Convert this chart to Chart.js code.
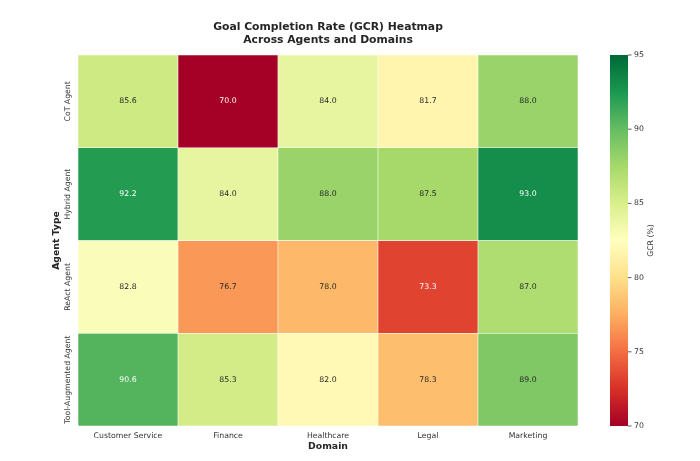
<!DOCTYPE html>
<html>
<head>
<meta charset="utf-8">
<script src="https://cdn.jsdelivr.net/npm/chart.js@4.4.1/dist/chart.umd.min.js"></script>
<style>
  html, body { margin: 0; padding: 0; background: #fff; }
  #wrap { width: 700px; height: 461px; }
</style>
</head>
<body>
<div id="wrap"><canvas id="heatmap"></canvas></div>
<script>
// data
const domains = ['Customer Service', 'Finance', 'Healthcare', 'Legal', 'Marketing'];
const agents = ['CoT Agent', 'Hybrid Agent', 'ReAct Agent', 'Tool-Augmented Agent'];
const cotGcr = [85.6, 70.0, 84.0, 81.7, 88.0];
const hybridGcr = [92.2, 84.0, 88.0, 87.5, 93.0];
const reactGcr = [82.8, 76.7, 78.0, 73.3, 87.0];
const toolGcr = [90.6, 85.3, 82.0, 78.3, 89.0];
const gcrRows = [cotGcr, hybridGcr, reactGcr, toolGcr];
const colorbarTicks = [70, 75, 80, 85, 90, 95];
const vmin = 70, vmax = 95;

// matplotlib RdYlGn anchors
const rdylgn = ['#a50026', '#d73027', '#f46d43', '#fdae61', '#fee08b', '#ffffbf',
                '#d9ef8b', '#a6d96a', '#66bd63', '#1a9850', '#006837'];

function hexToRgb(h) {
  return [parseInt(h.slice(1, 3), 16), parseInt(h.slice(3, 5), 16), parseInt(h.slice(5, 7), 16)];
}

function cmap(v) {
  let t = (v - vmin) / (vmax - vmin);
  t = Math.max(0, Math.min(1, t));
  const pos = t * (rdylgn.length - 1);
  const i = Math.min(Math.floor(pos), rdylgn.length - 2);
  const f = pos - i;
  const a = hexToRgb(rdylgn[i]), b = hexToRgb(rdylgn[i + 1]);
  return a.map((c, k) => Math.round(c + (b[k] - c) * f));
}

// same rule seaborn uses for annotation colour
function textColor(rgb) {
  const lin = rgb.map(c => {
    c = c / 255;
    return c <= 0.03928 ? c / 12.92 : Math.pow((c + 0.055) / 1.055, 2.4);
  });
  const lum = 0.2126 * lin[0] + 0.7152 * lin[1] + 0.0722 * lin[2];
  return lum > 0.408 ? '#262626' : '#ffffff';
}

const datasets = gcrRows.map((row, r) => ({
  label: agents[r],
  data: row.map(() => [r, r + 1]),
  gcr: row,
  backgroundColor: row.map(v => 'rgb(' + cmap(v).join(',') + ')'),
  borderColor: '#ffffff',
  borderWidth: 0.6,
  borderSkipped: false,
  barPercentage: 1,
  categoryPercentage: 1,
  grouped: false
}));

const font = 'DejaVu Sans';
const small = '7.75px "' + font + '"';

const heatmapExtras = {
  id: 'heatmapExtras',
  afterDatasetsDraw(chart) {
    const ctx = chart.ctx;
    ctx.save();
    ctx.font = small;
    ctx.textAlign = 'center';
    ctx.textBaseline = 'middle';
    chart.data.datasets.forEach((ds, di) => {
      chart.getDatasetMeta(di).data.forEach((bar, j) => {
        const p = bar.getProps(['x', 'y', 'base'], true);
        const v = ds.gcr[j];
        ctx.fillStyle = textColor(cmap(v));
        ctx.fillText(v.toFixed(1), p.x, (p.y + p.base) / 2);
      });
    });
    ctx.restore();
  },
  afterDraw(chart) {
    const ctx = chart.ctx;
    const area = chart.chartArea;
    const x = chart.scales.x;
    const y = chart.scales.y;
    const cb = chart.scales.y2;
    ctx.save();
    ctx.textAlign = 'center';
    ctx.textBaseline = 'middle';

    // title
    const cx = (area.left + area.right) / 2;
    ctx.fillStyle = '#262626';
    ctx.font = 'bold 10.8px "' + font + '"';
    ctx.fillText('Goal Completion Rate (GCR) Heatmap', cx, 27);
    ctx.fillText('Across Agents and Domains', cx, 40);

    // x tick labels and x title
    ctx.font = small;
    ctx.fillStyle = '#333333';
    domains.forEach((d, i) => {
      ctx.fillText(d, x.getPixelForValue(i), area.bottom + 10);
    });
    ctx.font = 'bold 9.3px "' + font + '"';
    ctx.fillStyle = '#262626';
    ctx.fillText('Domain', cx, area.bottom + 21);

    // y tick labels (rotated) and y title
    ctx.font = small;
    ctx.fillStyle = '#333333';
    agents.forEach((a, r) => {
      ctx.save();
      ctx.translate(area.left - 10, y.getPixelForValue(r + 0.5));
      ctx.rotate(-Math.PI / 2);
      ctx.fillText(a, 0, 0);
      ctx.restore();
    });
    ctx.save();
    ctx.font = 'bold 9.3px "' + font + '"';
    ctx.fillStyle = '#262626';
    ctx.translate(area.left - 21, (area.top + area.bottom) / 2);
    ctx.rotate(-Math.PI / 2);
    ctx.fillText('Agent Type', 0, 0);
    ctx.restore();

    // colorbar
    const x0 = area.right + 32, w = 18;
    const yTop = cb.getPixelForValue(vmax), yBot = cb.getPixelForValue(vmin);
    const grad = ctx.createLinearGradient(0, yBot, 0, yTop);
    rdylgn.forEach((c, i) => grad.addColorStop(i / (rdylgn.length - 1), c));
    ctx.fillStyle = grad;
    ctx.fillRect(x0, yTop, w, yBot - yTop);
    ctx.strokeStyle = '#333333';
    ctx.lineWidth = 0.8;
    ctx.fillStyle = '#333333';
    ctx.font = small;
    ctx.textAlign = 'left';
    colorbarTicks.forEach(t => {
      const py = cb.getPixelForValue(t);
      ctx.beginPath();
      ctx.moveTo(x0 + w, py);
      ctx.lineTo(x0 + w + 3.5, py);
      ctx.stroke();
      ctx.fillText(String(t), x0 + w + 6, py);
    });
    ctx.textAlign = 'center';
    ctx.save();
    ctx.translate(x0 + w + 23, (yTop + yBot) / 2);
    ctx.rotate(-Math.PI / 2);
    ctx.fillText('GCR (%)', 0, 0);
    ctx.restore();

    ctx.restore();
  }
};

new Chart(document.getElementById('heatmap'), {
  type: 'bar',
  data: { labels: domains, datasets: datasets },
  options: {
    responsive: true,
    maintainAspectRatio: false,
    animation: false,
    events: [],
    layout: { padding: { top: 55, left: 78, right: 122, bottom: 35 } },
    plugins: {
      legend: { display: false },
      tooltip: { enabled: false },
      title: { display: false }
    },
    scales: {
      x: { type: 'category', display: false },
      y: { type: 'linear', min: 0, max: 4, reverse: true, display: false },
      y2: { type: 'linear', position: 'right', min: vmin, max: vmax, display: false }
    }
  },
  plugins: [heatmapExtras]
});
</script>
</body>
</html>
